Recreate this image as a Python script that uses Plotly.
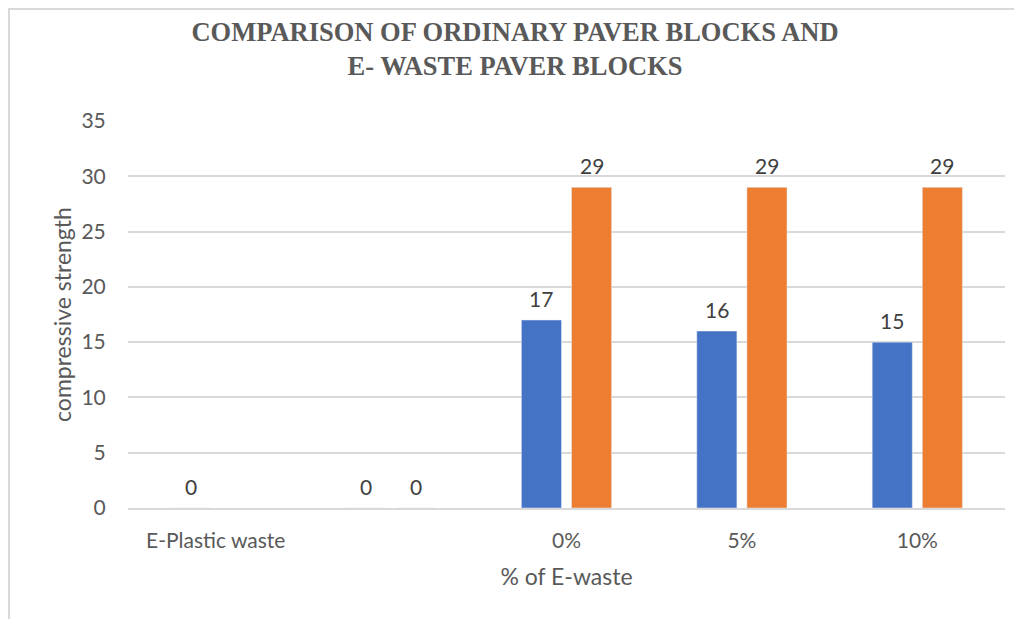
import plotly.graph_objects as go

categories = ["E-Plastic waste", " ", "0%", "5%", "10%"]
ordinary = [0, 0, 17, 16, 15]
ewaste = [None, 0, 29, 29, 29]
y_ticks = [0, 5, 10, 15, 20, 25, 30, 35]

# page body has an 8px margin; figure sized to fit the visible window
OFF = 8
W, H = 1022 - OFF, 619 - OFF
L, R, T, B = 128 - OFF, 17, 121 - OFF, 111
pw, ph = W - L - R, H - T - B

def px(x_screen):
    return (x_screen - OFF - L) / pw

def py(y_screen):
    return (H - B - (y_screen - OFF)) / ph

font_fam = "Lato, Carlito, 'Open Sans', sans-serif"
grey = "#595959"
label_col = "#404040"

fig = go.Figure()
fig.add_trace(go.Bar(x=categories, y=ordinary, marker_color="#4472C4",
                     name="Ordinary", offsetgroup="a"))
fig.add_trace(go.Bar(x=categories, y=ewaste, marker_color="#ED7D31",
                     name="E-waste", offsetgroup="b"))

annotations = []
slot = pw / len(categories) * (1 - 0.4286) / 4
for vals, shift in ((ordinary, -slot), (ewaste, slot)):
    for c, v in zip(categories, vals):
        if v is None:
            continue
        annotations.append(dict(x=c, y=v, xref="x", yref="y", text=str(v),
                                showarrow=False, xshift=shift, yshift=22,
                                font=dict(size=21, color=label_col, family=font_fam)))

fig.update_layout(
    width=W, height=H,
    margin=dict(l=L, r=R, t=T, b=B, pad=0),
    paper_bgcolor="white", plot_bgcolor="white",
    barmode="group", bargap=0.4286, bargroupgap=0.2,
    showlegend=False,
    title=dict(text="COMPARISON OF ORDINARY PAVER BLOCKS AND<br>E- WASTE PAVER BLOCKS",
               x=0.5, xanchor="center", y=1 - 32.5 / H, yanchor="middle",
               font=dict(family="'Liberation Serif', 'Times New Roman', serif",
                         size=26.5, color=grey, weight="bold")),
    font=dict(family=font_fam, color=grey, size=21),
    xaxis=dict(type="category", showgrid=False, showline=True,
               linecolor="#D9D9D9", linewidth=2,
               ticks="outside", ticklen=13, tickcolor="rgba(0,0,0,0)",
               tickfont=dict(size=21, color=grey, family=font_fam),
               title=dict(text="% of E-waste", standoff=18,
                          font=dict(size=23, color=grey, family=font_fam))),
    yaxis=dict(range=[0, 35], tickvals=y_ticks, showgrid=True,
               gridcolor="#D9D9D9", gridwidth=1.5, zeroline=False,
               showline=False, ticks="outside", ticklen=17,
               tickcolor="rgba(0,0,0,0)",
               tickfont=dict(size=21, color=grey, family=font_fam),
               title=dict(text="compressive strength", standoff=3,
                          font=dict(size=23, color=grey, family=font_fam))),
    annotations=annotations,
    shapes=[
        dict(type="line", xref="paper", yref="paper",
             x0=px(9), x1=px(9), y0=py(619), y1=py(7),
             line=dict(color="#D9D9D9", width=2), layer="below"),
        dict(type="line", xref="paper", yref="paper",
             x0=px(9), x1=px(1030), y0=py(9), y1=py(9),
             line=dict(color="#D9D9D9", width=2), layer="below"),
    ],
)

fig.write_html("out.html")
